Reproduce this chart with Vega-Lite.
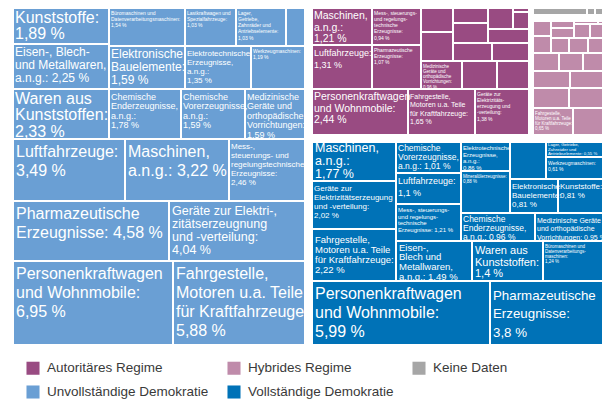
{
  "$schema": "https://vega.github.io/schema/vega-lite/v6.json",
  "width": 590,
  "height": 337,
  "autosize": {"type": "none"},
  "padding": {"left": 13, "top": 8, "right": 6, "bottom": 55},
  "background": "white",
  "config": {"view": {"stroke": null}, "font": "Liberation Sans"},
  "data": {"values": [
    {"id":"U1","regime":"Unvollständige Demokratie","label":"Kunststoffe:\n1,89 %","x0":13,"x1":109,"y0":8,"y1":44},
    {"id":"U2","regime":"Unvollständige Demokratie","label":"Büromaschinen und\nDatenverarbeitungsmaschinen:\n1,54 %","x0":109,"x1":185,"y0":8,"y1":46},
    {"id":"U3","regime":"Unvollständige Demokratie","label":"Lastkraftwagen und\nSpezialfahrzeuge:\n1,03 %","x0":185,"x1":236,"y0":8,"y1":46},
    {"id":"U4","regime":"Unvollständige Demokratie","label":"Lager,\nGetriebe,\nZahnräder und\nAntriebselemente:\n1,03 %","x0":236,"x1":286,"y0":8,"y1":46},
    {"id":"U5","regime":"Unvollständige Demokratie","label":"","x0":286,"x1":305,"y0":8,"y1":46},
    {"id":"U6","regime":"Unvollständige Demokratie","label":"Eisen-, Blech-\nund Metallwaren,\na.n.g.: 2,25 %","x0":13,"x1":109,"y0":44,"y1":89},
    {"id":"U7","regime":"Unvollständige Demokratie","label":"Elektronische\nBauelemente:\n1,59 %","x0":109,"x1":185,"y0":46,"y1":89},
    {"id":"U8","regime":"Unvollständige Demokratie","label":"Elektrotechnische\nErzeugnisse,\na.n.g.:\n1,35 %","x0":185,"x1":251,"y0":46,"y1":89},
    {"id":"U9","regime":"Unvollständige Demokratie","label":"Werkzeugmaschinen:\n1,19 %","x0":251,"x1":305,"y0":46,"y1":89},
    {"id":"U10","regime":"Unvollständige Demokratie","label":"Chemische\nEnderzeugnisse,\na.n.g.:\n1,78 %","x0":109,"x1":181,"y0":89,"y1":139},
    {"id":"U11","regime":"Unvollständige Demokratie","label":"Chemische\nVorerzeugnisse,\na.n.g.:\n1,59 %","x0":181,"x1":245,"y0":89,"y1":139},
    {"id":"U12","regime":"Unvollständige Demokratie","label":"Medizinische\nGeräte und\northopädische\nVorrichtungen:\n1,59 %","x0":245,"x1":305,"y0":89,"y1":139},
    {"id":"U20","regime":"Unvollständige Demokratie","label":"Waren aus\nKunststoffen:\n2,33 %","x0":13,"x1":109,"y0":89,"y1":139},
    {"id":"U13","regime":"Unvollständige Demokratie","label":"Luftfahrzeuge:\n3,49 %","x0":13,"x1":125,"y0":139,"y1":201},
    {"id":"U14","regime":"Unvollständige Demokratie","label":"Maschinen,\na.n.g.: 3,22 %","x0":125,"x1":229,"y0":139,"y1":201},
    {"id":"U15","regime":"Unvollständige Demokratie","label":"Mess-,\nsteuerungs- und\nregelungstechnische\nErzeugnisse:\n2,46 %","x0":229,"x1":305,"y0":139,"y1":201},
    {"id":"U16","regime":"Unvollständige Demokratie","label":"Pharmazeutische\nErzeugnisse: 4,58 %","x0":13,"x1":169,"y0":201,"y1":261},
    {"id":"U17","regime":"Unvollständige Demokratie","label":"Geräte zur Elektri-,\nzitätserzeugnung\nund -verteilung:\n4,04 %","x0":169,"x1":305,"y0":201,"y1":261},
    {"id":"U18","regime":"Unvollständige Demokratie","label":"Personenkraftwagen\nund Wohnmobile:\n6,95 %","x0":13,"x1":173,"y0":261,"y1":345},
    {"id":"U19","regime":"Unvollständige Demokratie","label":"Fahrgestelle,\nMotoren u.a. Teile\nfür Kraftfahrzeuge:\n5,88 %","x0":173,"x1":305,"y0":261,"y1":345},

    {"id":"A1","regime":"Autoritäres Regime","label":"Maschinen,\na.n.g.:\n1,21 %","x0":312,"x1":372,"y0":8,"y1":45},
    {"id":"A2","regime":"Autoritäres Regime","label":"Mess-, steuerungs-\nund regelungs-\ntechnische\nErzeugnisse:\n0,94 %","x0":372,"x1":421,"y0":8,"y1":45},
    {"id":"A3","regime":"Autoritäres Regime","label":"Luftfahrzeuge:\n1,31 %","x0":312,"x1":372,"y0":45,"y1":89},
    {"id":"A4","regime":"Autoritäres Regime","label":"Pharmazeutische\nErzeugnisse:\n1,07 %","x0":372,"x1":421,"y0":45,"y1":89},
    {"id":"P1","regime":"Autoritäres Regime","label":"","x0":421,"x1":453,"y0":8,"y1":32},
    {"id":"P2","regime":"Autoritäres Regime","label":"","x0":421,"x1":453,"y0":32,"y1":61},
    {"id":"P3","regime":"Autoritäres Regime","label":"","x0":453,"x1":488,"y0":8,"y1":23},
    {"id":"P4","regime":"Autoritäres Regime","label":"","x0":453,"x1":488,"y0":23,"y1":43},
    {"id":"P5","regime":"Autoritäres Regime","label":"","x0":488,"x1":513,"y0":8,"y1":29},
    {"id":"P6","regime":"Autoritäres Regime","label":"","x0":513,"x1":529,"y0":8,"y1":12},
    {"id":"P7","regime":"Autoritäres Regime","label":"","x0":513,"x1":529,"y0":12,"y1":29},
    {"id":"P8","regime":"Autoritäres Regime","label":"","x0":488,"x1":529,"y0":29,"y1":43},
    {"id":"P9","regime":"Autoritäres Regime","label":"","x0":453,"x1":492,"y0":43,"y1":61},
    {"id":"P10","regime":"Autoritäres Regime","label":"","x0":492,"x1":529,"y0":43,"y1":61},
    {"id":"A5","regime":"Autoritäres Regime","label":"Medizinische\nGeräte und\northopädische\nVorrichtungen:\n0,96 %","x0":421,"x1":462,"y0":61,"y1":89},
    {"id":"P11","regime":"Autoritäres Regime","label":"","x0":462,"x1":497,"y0":61,"y1":89},
    {"id":"P12","regime":"Autoritäres Regime","label":"","x0":497,"x1":529,"y0":61,"y1":89},
    {"id":"A6","regime":"Autoritäres Regime","label":"Personenkraftwagen\nund Wohnmobile:\n2,44 %","x0":312,"x1":408,"y0":89,"y1":135},
    {"id":"A7","regime":"Autoritäres Regime","label":"Fahrgestelle,\nMotoren u.a. Teile\nfür Kraftfahrzeuge:\n1,65 %","x0":408,"x1":475,"y0":89,"y1":135},
    {"id":"A8","regime":"Autoritäres Regime","label":"Geräte zur\nElektrizitäts-\nerzeugung und\n-verteilung:\n1,38 %","x0":475,"x1":529,"y0":89,"y1":135},

    {"id":"G1","regime":"Keine Daten","label":"","x0":533,"x1":587,"y0":8,"y1":15},
    {"id":"G2","regime":"Keine Daten","label":"","x0":587,"x1":595,"y0":8,"y1":15},
    {"id":"G3","regime":"Keine Daten","label":"","x0":595,"x1":603,"y0":8,"y1":15},

    {"id":"H1","regime":"Hybrides Regime","label":"","x0":533,"x1":551,"y0":21,"y1":36},
    {"id":"H2","regime":"Hybrides Regime","label":"","x0":551,"x1":574,"y0":21,"y1":28},
    {"id":"H3","regime":"Hybrides Regime","label":"","x0":551,"x1":574,"y0":28,"y1":38},
    {"id":"H4","regime":"Hybrides Regime","label":"","x0":574,"x1":598,"y0":21,"y1":24},
    {"id":"H5","regime":"Hybrides Regime","label":"","x0":598,"x1":603,"y0":21,"y1":24},
    {"id":"H6","regime":"Hybrides Regime","label":"","x0":574,"x1":590,"y0":24,"y1":38},
    {"id":"H7","regime":"Hybrides Regime","label":"","x0":590,"x1":603,"y0":24,"y1":38},
    {"id":"H8","regime":"Hybrides Regime","label":"","x0":533,"x1":551,"y0":36,"y1":53},
    {"id":"H9","regime":"Hybrides Regime","label":"","x0":551,"x1":569,"y0":38,"y1":53},
    {"id":"H10","regime":"Hybrides Regime","label":"","x0":569,"x1":588,"y0":38,"y1":53},
    {"id":"H11","regime":"Hybrides Regime","label":"","x0":588,"x1":603,"y0":38,"y1":53},
    {"id":"H12","regime":"Hybrides Regime","label":"","x0":533,"x1":559,"y0":53,"y1":71},
    {"id":"H13","regime":"Hybrides Regime","label":"","x0":559,"x1":583,"y0":53,"y1":71},
    {"id":"H14","regime":"Hybrides Regime","label":"","x0":583,"x1":603,"y0":53,"y1":71},
    {"id":"H15","regime":"Hybrides Regime","label":"","x0":533,"x1":570,"y0":71,"y1":88},
    {"id":"H16","regime":"Hybrides Regime","label":"","x0":570,"x1":603,"y0":71,"y1":88},
    {"id":"H17","regime":"Hybrides Regime","label":"","x0":533,"x1":569,"y0":88,"y1":108},
    {"id":"H18","regime":"Hybrides Regime","label":"","x0":569,"x1":603,"y0":88,"y1":108},
    {"id":"H19","regime":"Hybrides Regime","label":"Fahrgestelle,\nMotoren u.a. Teile\nfür Kraftfahrzeuge:\n0,65 %","x0":533,"x1":573,"y0":108,"y1":135},
    {"id":"H20","regime":"Hybrides Regime","label":"","x0":573,"x1":603,"y0":108,"y1":135},

    {"id":"V1","regime":"Vollständige Demokratie","label":"Maschinen,\na.n.g.:\n1,77 %","x0":312,"x1":396,"y0":142,"y1":181},
    {"id":"V2","regime":"Vollständige Demokratie","label":"Geräte zur\nElektrizitätserzeugung\nund -verteilung:\n2,02 %","x0":312,"x1":396,"y0":181,"y1":229},
    {"id":"V3","regime":"Vollständige Demokratie","label":"Fahrgestelle,\nMotoren u.a. Teile\nfür Kraftfahrzeuge:\n2,22 %","x0":312,"x1":396,"y0":229,"y1":281},
    {"id":"V4","regime":"Vollständige Demokratie","label":"Chemische\nVorerzeugnisse,\na.n.g.: 1,01 %","x0":396,"x1":461,"y0":142,"y1":173},
    {"id":"V5","regime":"Vollständige Demokratie","label":"Luftfahrzeuge:\n1,1 %","x0":396,"x1":461,"y0":173,"y1":204},
    {"id":"V6","regime":"Vollständige Demokratie","label":"Mess-, steuerungs-\nund regelungs-\ntechnische\nErzeugnisse: 1,21 %","x0":396,"x1":461,"y0":204,"y1":241},
    {"id":"V7","regime":"Vollständige Demokratie","label":"Eisen-,\nBlech und\nMetallwaren,\na.n.g.: 1,49 %","x0":396,"x1":472,"y0":241,"y1":281},
    {"id":"V8","regime":"Vollständige Demokratie","label":"Elektrotechnische\nErzeugnisse,\na.n.g.:\n0,86 %","x0":461,"x1":510,"y0":142,"y1":171},
    {"id":"V9","regime":"Vollständige Demokratie","label":"Mineralölerzeugnisse:\n0,88 %","x0":461,"x1":510,"y0":171,"y1":213},
    {"id":"V10","regime":"Vollständige Demokratie","label":"","x0":510,"x1":546,"y0":142,"y1":179},
    {"id":"V11","regime":"Vollständige Demokratie","label":"Lager, Getriebe,\nZahnräder und\nAntriebselemente: 0,55 %","x0":546,"x1":603,"y0":142,"y1":157},
    {"id":"V12","regime":"Vollständige Demokratie","label":"Werkzeugmaschinen:\n0,61 %","x0":546,"x1":603,"y0":157,"y1":179},
    {"id":"V13","regime":"Vollständige Demokratie","label":"Elektronische\nBauelemente:\n0,81 %","x0":510,"x1":558,"y0":179,"y1":213},
    {"id":"V14","regime":"Vollständige Demokratie","label":"Kunststoffe:\n0,81 %","x0":558,"x1":603,"y0":179,"y1":213},
    {"id":"V15","regime":"Vollständige Demokratie","label":"Chemische\nEnderzeugnisse,\na.n.g.: 0,96 %","x0":461,"x1":535,"y0":213,"y1":241},
    {"id":"V16","regime":"Vollständige Demokratie","label":"Medizinische Geräte\nund orthopädische\nVorrichtungen: 0,95 %","x0":535,"x1":603,"y0":213,"y1":241},
    {"id":"V17","regime":"Vollständige Demokratie","label":"Waren aus\nKunststoffen:\n1,4 %","x0":472,"x1":543,"y0":241,"y1":281},
    {"id":"V18","regime":"Vollständige Demokratie","label":"Büromaschinen und\nDatenverarbeitungs-\nmaschinen:\n1,24 %","x0":543,"x1":603,"y0":241,"y1":281},
    {"id":"V19","regime":"Vollständige Demokratie","label":"Personenkraftwagen\nund Wohnmobile:\n5,99 %","x0":312,"x1":490,"y0":281,"y1":345},
    {"id":"V20","regime":"Vollständige Demokratie","label":"Pharmazeutische\nErzeugnisse:\n3,8 %","x0":490,"x1":603,"y0":281,"y1":345}
  ]},
  "encoding": {
    "x": {"field": "x0", "type": "quantitative", "scale": {"domain": [13, 603], "nice": false, "zero": false}, "axis": null},
    "y": {"field": "y0", "type": "quantitative", "scale": {"domain": [8, 345], "nice": false, "zero": false, "reverse": true}, "axis": null}
  },
  "layer": [
    {
      "mark": {"type": "rect", "stroke": "white", "strokeWidth": 2},
      "encoding": {
        "x2": {"field": "x1"},
        "y2": {"field": "y1"},
        "color": {
          "field": "regime", "type": "nominal",
          "scale": {
            "domain": ["Autoritäres Regime", "Hybrides Regime", "Keine Daten", "Unvollständige Demokratie", "Vollständige Demokratie"],
            "range": ["#994b82", "#bf8baa", "#a6a6a6", "#6a9fd4", "#0072b7"]
          },
          "legend": {
            "title": null, "orient": "none", "legendX": 13, "legendY": 353,
            "direction": "horizontal", "columns": 3,
            "symbolType": "square", "symbolSize": 170, "symbolStrokeWidth": 0, "symbolOpacity": 1,
            "labelFontSize": 13.5, "labelColor": "#3a3a3a", "labelFont": "Liberation Sans",
            "labelOffset": 7, "columnPadding": 18, "rowPadding": 10, "labelLimit": 300, "padding": 0
          }
        }
      }
    },
    {
      "transform": [{"filter": {"field": "id", "oneOf": ["U13", "U14", "U16", "U18", "U19", "V19"]}}],
      "mark": {"type": "text", "align": "left", "baseline": "top", "dx": 3, "dy": 5, "fontSize": 16, "lineHeight": 19, "lineBreak": "\n", "color": "white", "font": "Liberation Sans"},
      "encoding": {"text": {"field": "label"}}
    },
    {
      "transform": [{"filter": {"field": "id", "oneOf": ["U1", "U20"]}}],
      "mark": {"type": "text", "align": "left", "baseline": "top", "dx": 2, "dy": 1.5, "fontSize": 16, "lineHeight": 16.8, "lineBreak": "\n", "color": "white", "font": "Liberation Sans"},
      "encoding": {"text": {"field": "label"}}
    },
    {
      "transform": [{"filter": {"field": "id", "oneOf": ["V1"]}}],
      "mark": {"type": "text", "align": "left", "baseline": "top", "dx": 3, "dy": -0.5, "fontSize": 12.5, "lineHeight": 13.3, "lineBreak": "\n", "color": "white", "font": "Liberation Sans"},
      "encoding": {"text": {"field": "label"}}
    },
    {
      "transform": [{"filter": {"field": "id", "oneOf": ["U17"]}}],
      "mark": {"type": "text", "align": "left", "baseline": "top", "dx": 3, "dy": 3.5, "fontSize": 12.5, "lineHeight": 13, "lineBreak": "\n", "color": "white", "font": "Liberation Sans"},
      "encoding": {"text": {"field": "label"}}
    },
    {
      "transform": [{"filter": {"field": "id", "oneOf": ["V20"]}}],
      "mark": {"type": "text", "align": "left", "baseline": "top", "dx": 3, "dy": 8, "fontSize": 13.3, "lineHeight": 18.3, "lineBreak": "\n", "color": "white", "font": "Liberation Sans"},
      "encoding": {"text": {"field": "label"}}
    },
    {
      "transform": [{"filter": {"field": "id", "oneOf": ["U6", "U7"]}}],
      "mark": {"type": "text", "align": "left", "baseline": "top", "dx": 2, "dy": 3, "fontSize": 12, "lineHeight": 12.8, "lineBreak": "\n", "color": "white", "font": "Liberation Sans"},
      "encoding": {"text": {"field": "label"}}
    },
    {
      "transform": [{"filter": {"field": "id", "oneOf": ["V17"]}}],
      "mark": {"type": "text", "align": "left", "baseline": "top", "dx": 3, "dy": 4, "fontSize": 11, "lineHeight": 11.7, "lineBreak": "\n", "color": "white", "font": "Liberation Sans"},
      "encoding": {"text": {"field": "label"}}
    },
    {
      "transform": [{"filter": {"field": "id", "oneOf": ["A1", "A6"]}}],
      "mark": {"type": "text", "align": "left", "baseline": "top", "dx": 2, "dy": 3, "fontSize": 10.5, "lineHeight": 11.7, "lineBreak": "\n", "color": "white", "font": "Liberation Sans"},
      "encoding": {"text": {"field": "label"}}
    },
    {
      "transform": [{"filter": {"field": "id", "oneOf": ["V7"]}}],
      "mark": {"type": "text", "align": "left", "baseline": "top", "dx": 3, "dy": 1.5, "fontSize": 9.5, "lineHeight": 9.8, "lineBreak": "\n", "color": "white", "font": "Liberation Sans"},
      "encoding": {"text": {"field": "label"}}
    },
    {
      "transform": [{"filter": {"field": "id", "oneOf": ["V3"]}}],
      "mark": {"type": "text", "align": "left", "baseline": "top", "dx": 3, "dy": 6, "fontSize": 9.5, "lineHeight": 10, "lineBreak": "\n", "color": "white", "font": "Liberation Sans"},
      "encoding": {"text": {"field": "label"}}
    },
    {
      "transform": [{"filter": {"field": "id", "oneOf": ["U10", "U11", "U12"]}}],
      "mark": {"type": "text", "align": "left", "baseline": "top", "dx": 2, "dy": 3.5, "fontSize": 9, "lineHeight": 9.6, "lineBreak": "\n", "color": "white", "font": "Liberation Sans"},
      "encoding": {"text": {"field": "label"}}
    },
    {
      "transform": [{"filter": {"field": "id", "oneOf": ["A3", "V5"]}}],
      "mark": {"type": "text", "align": "left", "baseline": "top", "dx": 2, "dy": 3.5, "fontSize": 9, "lineHeight": 12, "lineBreak": "\n", "color": "white", "font": "Liberation Sans"},
      "encoding": {"text": {"field": "label"}}
    },
    {
      "transform": [{"filter": {"field": "id", "oneOf": ["V4", "V15"]}}],
      "mark": {"type": "text", "align": "left", "baseline": "top", "dx": 2, "dy": 1.5, "fontSize": 8.5, "lineHeight": 9, "lineBreak": "\n", "color": "white", "font": "Liberation Sans"},
      "encoding": {"text": {"field": "label"}}
    },
    {
      "transform": [{"filter": {"field": "id", "oneOf": ["U8", "U15", "V2", "V13", "V14"]}}],
      "mark": {"type": "text", "align": "left", "baseline": "top", "dx": 2, "dy": 4, "fontSize": 8, "lineHeight": 9, "lineBreak": "\n", "color": "white", "font": "Liberation Sans"},
      "encoding": {"text": {"field": "label"}}
    },
    {
      "transform": [{"filter": {"field": "id", "oneOf": ["A7", "V16"]}}],
      "mark": {"type": "text", "align": "left", "baseline": "top", "dx": 2, "dy": 3.5, "fontSize": 7, "lineHeight": 8.5, "lineBreak": "\n", "color": "white", "font": "Liberation Sans"},
      "encoding": {"text": {"field": "label"}}
    },
    {
      "transform": [{"filter": {"field": "id", "oneOf": ["V6", "V8"]}}],
      "mark": {"type": "text", "align": "left", "baseline": "top", "dx": 2, "dy": 3, "fontSize": 6, "lineHeight": 6.5, "lineBreak": "\n", "color": "white", "font": "Liberation Sans"},
      "encoding": {"text": {"field": "label"}}
    },
    {
      "transform": [{"filter": {"field": "id", "oneOf": ["U2", "U3", "U4", "U9", "A2", "A4", "A8"]}}],
      "mark": {"type": "text", "align": "left", "baseline": "top", "dx": 2, "dy": 2.5, "fontSize": 5, "lineHeight": 6.3, "lineBreak": "\n", "color": "white", "font": "Liberation Sans"},
      "encoding": {"text": {"field": "label"}}
    },
    {
      "transform": [{"filter": {"field": "id", "oneOf": ["V12"]}}],
      "mark": {"type": "text", "align": "left", "baseline": "top", "dx": 2, "dy": 4, "fontSize": 5, "lineHeight": 6.3, "lineBreak": "\n", "color": "white", "font": "Liberation Sans"},
      "encoding": {"text": {"field": "label"}}
    },
    {
      "transform": [{"filter": {"field": "id", "oneOf": ["V11"]}}],
      "mark": {"type": "text", "align": "left", "baseline": "top", "dx": 2, "dy": 1, "fontSize": 4.3, "lineHeight": 4.6, "lineBreak": "\n", "color": "white", "font": "Liberation Sans"},
      "encoding": {"text": {"field": "label"}}
    },
    {
      "transform": [{"filter": {"field": "id", "oneOf": ["A5", "V9", "V18", "H19"]}}],
      "mark": {"type": "text", "align": "left", "baseline": "top", "dx": 2, "dy": 2.5, "fontSize": 4.5, "lineHeight": 5.3, "lineBreak": "\n", "color": "white", "font": "Liberation Sans"},
      "encoding": {"text": {"field": "label"}}
    }
  ]
}
